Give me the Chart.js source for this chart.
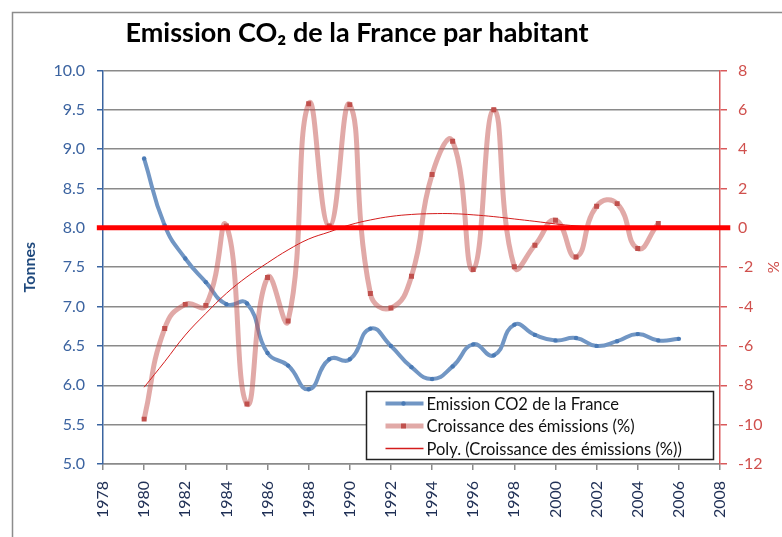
<!DOCTYPE html>
<html>
<head>
<meta charset="utf-8">
<script src="https://cdn.jsdelivr.net/npm/chart.js@4.4.0/dist/chart.umd.min.js"></script>
<style>
  html, body { margin: 0; padding: 0; background: #fff; }
  #wrap { width: 782px; height: 537px; }
</style>
</head>
<body>
<div id="wrap"><canvas id="co2-chart" width="782" height="537"></canvas></div>
<script>
// CO2 par habitant (tonnes), 1980-2006
const years = [1980, 1981, 1982, 1983, 1984, 1985, 1986, 1987, 1988, 1989, 1990, 1991, 1992, 1993,
               1994, 1995, 1996, 1997, 1998, 1999, 2000, 2001, 2002, 2003, 2004, 2005, 2006];
const emissions = [8.88, 8.03, 7.61, 7.31, 7.03, 7.04, 6.41, 6.25, 5.95, 6.33, 6.33, 6.72, 6.50, 6.23,
                   6.08, 6.24, 6.52, 6.38, 6.77, 6.64, 6.57, 6.60, 6.50, 6.56, 6.65, 6.57, 6.59];

// croissance annuelle (%), 1980-2005
const growthYears = [1980, 1981, 1982, 1983, 1984, 1985, 1986, 1987, 1988, 1989, 1990, 1991, 1992,
                     1993, 1994, 1995, 1996, 1997, 1998, 1999, 2000, 2001, 2002, 2003, 2004, 2005];
const growth = [-9.72, -5.11, -3.89, -3.94, 0.1, -8.95, -2.52, -4.73, 6.31, 0.1, 6.26, -3.34, -4.07,
                -2.46, 2.71, 4.40, -2.12, 6.0, -1.98, -0.88, 0.39, -1.48, 1.10, 1.23, -1.05, 0.22];

// courbe de tendance polynomiale
const trendYears = [1980, 1981, 1982, 1983, 1984, 1985, 1986, 1987, 1988, 1989, 1990, 1991,
                    1992, 1993, 1994, 1995, 1996, 1997, 1998, 1999, 2000, 2001, 2002, 2003];
const trend = [-8.1, -6.8, -5.45, -4.35, -3.33, -2.49, -1.78, -1.12, -0.57, -0.21, 0.15, 0.4,
               0.58, 0.68, 0.72, 0.72, 0.66, 0.57, 0.45, 0.33, 0.2, 0.1, 0.04, 0.0];

// ligne rouge du zéro
const zeroLineX = [1977.7, 2008.5];
const zeroLineY = [0, 0];

const pts = (xs, ys) => xs.map((x, i) => ({ x: x, y: ys[i] }));

Chart.defaults.font.family = 'Lato, "Open Sans", sans-serif';

const background = {
    id: 'background',
    afterLayout(chart) {
        // excel title is not centred on the canvas, move it a bit to the left
        const t = chart.titleBlock;
        if (t) { t.left -= 34; t.right -= 34; }
    },
    beforeDraw(chart) {
        const ctx = chart.ctx;
        ctx.save();
        ctx.fillStyle = '#fff';
        ctx.fillRect(0, 0, chart.width, chart.height);
        ctx.strokeStyle = '#8c8c8c';
        ctx.lineWidth = 1.5;
        ctx.strokeRect(12.5, 12.5, chart.width, chart.height);
        ctx.restore();
    }
};

// legend box sitting inside the plot, bottom right
const boxLegend = {
    id: 'boxLegend',
    afterDraw(chart) {
        const ctx = chart.ctx;
        const items = chart.data.datasets.filter(d => d.label);
        const left = 366.5, top = 391.5, w = 347, h = 68;
        ctx.save();
        ctx.fillStyle = '#fff';
        ctx.fillRect(left, top, w, h);
        ctx.strokeStyle = '#222';
        ctx.lineWidth = 1.5;
        ctx.strokeRect(left, top, w, h);
        items.forEach((d, i) => {
            const y = top + 12 + i * 22.5;
            ctx.strokeStyle = d.borderColor;
            ctx.lineWidth = d.legendLineWidth || d.borderWidth;
            ctx.beginPath();
            ctx.moveTo(left + 19, y);
            ctx.lineTo(left + 57, y);
            ctx.stroke();
            if (d.pointRadius > 0) {
                ctx.fillStyle = d.pointBackgroundColor;
                ctx.strokeStyle = d.pointBackgroundColor;
                Chart.helpers.drawPoint(ctx, { pointStyle: d.pointStyle, radius: d.pointRadius, rotation: 0, borderWidth: 0 }, left + 37, y);
            }
            ctx.fillStyle = '#111';
            ctx.font = '16.5px Lato, "Open Sans", sans-serif';
            ctx.textBaseline = 'middle';
            ctx.fillText(d.label, left + 60, y + 1);
        });
        ctx.restore();
    }
};

new Chart(document.getElementById('co2-chart'), {
    type: 'line',
    data: {
        datasets: [{
            label: 'Emission CO2 de la France',
            data: pts(years, emissions),
            yAxisID: 'y',
            borderColor: '#7196c4',
            borderWidth: 4,
            pointStyle: 'circle',
            pointRadius: 2.2,
            pointBackgroundColor: '#4a7ab5',
            pointBorderWidth: 0,
            tension: 0.5,
            order: 4
        }, {
            label: 'Croissance des émissions (%)',
            data: pts(growthYears, growth),
            yAxisID: 'y2',
            borderColor: 'rgba(196, 84, 80, 0.5)',
            borderWidth: 5,
            pointStyle: 'rect',
            pointRadius: 3.5,
            pointBackgroundColor: '#c0504d',
            pointBorderWidth: 0,
            tension: 0.5,
            order: 3
        }, {
            label: 'Poly. (Croissance des émissions (%))',
            data: pts(trendYears, trend),
            yAxisID: 'y2',
            borderColor: '#d41c1c',
            borderWidth: 1,
            legendLineWidth: 1.5,
            pointRadius: 0,
            tension: 0.4,
            order: 2
        }, {
            label: '',
            data: pts(zeroLineX, zeroLineY),
            yAxisID: 'y2',
            borderColor: '#ff0000',
            borderWidth: 5,
            pointRadius: 0,
            clip: false,
            order: 1
        }]
    },
    options: {
        responsive: false,
        animation: false,
        layout: { padding: 0 },
        plugins: {
            legend: { display: false },
            tooltip: { enabled: false },
            title: {
                display: true,
                text: 'Emission CO₂ de la France par habitant',
                color: '#000',
                font: { size: 27, weight: 'bold' },
                padding: { top: 17, bottom: 21 }
            }
        },
        scales: {
            x: {
                type: 'linear',
                min: 1978,
                max: 2008,
                afterFit: s => { s.height = 73; },
                border: { color: '#8a8a8a', width: 1.5 },
                grid: { drawOnChartArea: false, tickLength: 6, color: '#8a8a8a', lineWidth: 1.5 },
                ticks: {
                    stepSize: 2,
                    minRotation: 90,
                    maxRotation: 90,
                    padding: 11,
                    color: '#1f2f55',
                    font: { size: 16 },
                    callback: v => String(v)
                }
            },
            y: {
                position: 'left',
                min: 5,
                max: 10,
                afterFit: s => { s.width = 103; },
                border: { color: '#3a64a0', width: 1.5 },
                grid: { color: '#8a8a8a', lineWidth: 1.5, tickLength: 6, tickColor: '#3a64a0' },
                ticks: {
                    stepSize: 0.5,
                    padding: 12,
                    color: '#3b63a0',
                    font: { size: 16 },
                    callback: v => v.toFixed(1)
                },
                title: {
                    display: true,
                    text: 'Tonnes',
                    color: '#1f497d',
                    font: { size: 16, weight: 'bold' },
                    padding: { top: 20, bottom: 0 }
                }
            },
            y2: {
                position: 'right',
                min: -12,
                max: 8,
                afterFit: s => { s.width = 62; },
                border: { color: '#d9595a', width: 1.5 },
                grid: { drawOnChartArea: false, tickLength: 7, color: '#d9595a', lineWidth: 1.5 },
                ticks: {
                    stepSize: 2,
                    padding: 11,
                    color: '#d0504d',
                    font: { size: 16 }
                },
                title: {
                    display: true,
                    text: '%',
                    color: '#d0504d',
                    font: { size: 15 },
                    padding: { top: 0, bottom: 0 }
                }
            }
        }
    },
    plugins: [background, boxLegend]
});
</script>
</body>
</html>
